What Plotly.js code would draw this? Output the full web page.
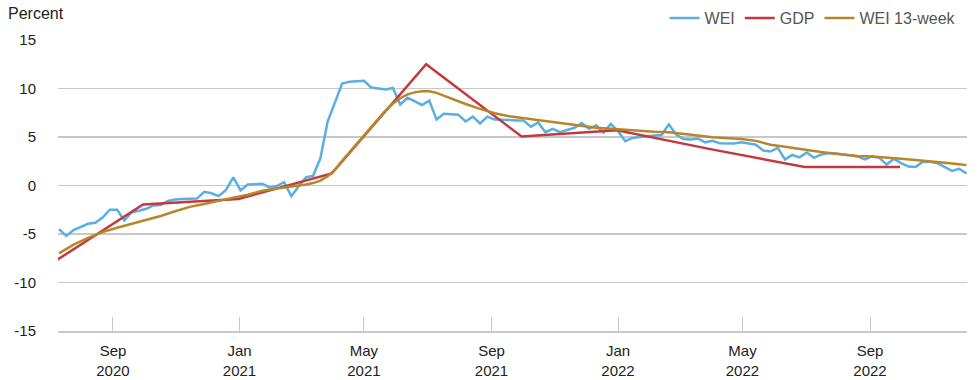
<!DOCTYPE html>
<html>
<head>
<meta charset="utf-8">
<script src="https://cdn.plot.ly/plotly-3.0.1.min.js"></script>
<style>
  html, body { margin: 0; padding: 0; background: #fff; }
  #chart { width: 980px; height: 380px; }
</style>
</head>
<body>
<div id="chart"></div>
<script>
// ---- Data ----
// WEI: weekly, first week ending 2020-07-11, 126 weeks
const weiStart = '2020-07-11';
const weiValues = [
  -4.5, -5.2, -4.6, -4.3, -3.95, -3.85, -3.3, -2.5, -2.5, -3.6,
  -2.75, -2.6, -2.4, -2.05, -2.0, -1.6, -1.45, -1.4, -1.4, -1.35,
  -0.65, -0.8, -1.1, -0.45, 0.85, -0.5, 0.1, 0.15, 0.17, -0.2,
  -0.05, 0.35, -1.1, -0.1, 0.85, 1.0, 2.8, 6.6, 8.6, 10.5,
  10.7, 10.75, 10.8, 10.1, 10.0, 9.9, 10.05, 8.35, 9.05, 8.7,
  8.3, 8.75, 6.8, 7.4, 7.35, 7.3, 6.6, 7.1, 6.4, 7.1,
  6.8, 6.8, 6.75, 6.7, 6.7, 6.05, 6.5, 5.5, 5.85, 5.5,
  5.7, 5.95, 6.45, 5.85, 6.2, 5.45, 6.35, 5.6, 4.57, 4.9,
  5.0, 5.1, 5.15, 5.2, 6.3, 5.26, 4.8, 4.75, 4.85, 4.45,
  4.6, 4.35, 4.33, 4.33, 4.45, 4.35, 4.2, 3.6, 3.5, 3.88,
  2.68, 3.15, 2.9, 3.4, 2.85, 3.2, 3.35, 3.3, 3.2, 3.1,
  3.0, 2.68, 3.0, 2.85, 2.16, 2.75, 2.3, 1.95, 1.92, 2.45,
  2.45, 2.3, 1.9, 1.5, 1.72, 1.24
];

// GDP: quarterly, year-over-year, plotted at quarter end
const gdpDates = ['2020-06-30', '2020-09-30', '2020-12-31', '2021-03-31', '2021-06-30',
                  '2021-09-30', '2021-12-31', '2022-03-31', '2022-06-30', '2022-09-30'];
const gdpValues = [-8.3, -1.95, -1.4, 1.25, 12.5, 5.05, 5.7, 3.75, 1.9, 1.92];

// WEI 13-week average, sampled at these week numbers (weeks after weiStart)
const avgWeeks = [0, 2, 4, 6, 8, 10, 12, 14, 16, 18, 20, 22, 24, 26, 28, 30, 32, 34, 35, 36,
                  37, 38, 39, 40, 41, 42, 43, 44, 45, 46, 47, 48, 49, 50, 51, 52, 53, 54, 56, 58,
                  60, 62, 64, 66, 68, 70, 72, 74, 76, 78, 80, 82, 84, 86, 88, 90, 92, 94, 96, 98,
                  100, 102, 104, 106, 108, 110, 112, 114, 116, 118, 120, 122, 124, 125];
const avgValues = [-7.0, -6.1, -5.4, -4.8, -4.35, -3.95, -3.6, -3.15, -2.65, -2.2, -1.9, -1.55, -1.25, -0.95, -0.55, -0.3, -0.12, 0.1, 0.25, 0.5,
                   0.95, 1.6, 2.55, 3.4, 4.3, 5.1, 6.0, 6.9, 7.75, 8.45, 9.0, 9.4, 9.6, 9.72, 9.72, 9.55, 9.25, 8.95, 8.4, 7.9,
                   7.45, 7.15, 6.95, 6.7, 6.5, 6.3, 6.1, 5.95, 5.85, 5.75, 5.6, 5.55, 5.5, 5.3, 5.15, 4.98, 4.88, 4.8, 4.6, 4.2,
                   4.0, 3.75, 3.55, 3.35, 3.2, 3.05, 3.0, 2.9, 2.75, 2.62, 2.45, 2.34, 2.2, 2.1];

// Axis ticks
const xTickVals = ['2020-09-01', '2021-01-01', '2021-05-01', '2021-09-01', '2022-01-01', '2022-05-01', '2022-09-01'];
const xTickText = ['Sep<br>2020', 'Jan<br>2021', 'May<br>2021', 'Sep<br>2021', 'Jan<br>2022', 'May<br>2022', 'Sep<br>2022'];
const yTickVals = [-15, -10, -5, 0, 5, 10, 15];
const yTickText = ['-15', '-10', '-5', '0', '5', '10', '15'];

// ---- Helpers ----
function weekDate(k) {
  const d = new Date(weiStart + 'T00:00:00Z');
  d.setUTCDate(d.getUTCDate() + 7 * k);
  return d.toISOString().slice(0, 10);
}
const weiDates = weiValues.map((_, k) => weekDate(k));
const avgDates = avgWeeks.map(k => weekDate(k));

const FONT = '"Liberation Sans", Arial, sans-serif';

const traces = [
  { x: weiDates, y: weiValues, name: 'WEI', type: 'scatter', mode: 'lines',
    line: { color: '#5aaee3', width: 2.5 } },
  { x: gdpDates, y: gdpValues, name: 'GDP', type: 'scatter', mode: 'lines',
    line: { color: '#c23a3d', width: 2.5 } },
  { x: avgDates, y: avgValues, name: 'WEI 13-week', type: 'scatter', mode: 'lines',
    line: { color: '#b8862a', width: 2.5 } }
];

const layout = {
  width: 980, height: 380,
  margin: { l: 58, r: 13, t: 40, b: 49, autoexpand: false },
  paper_bgcolor: '#fff', plot_bgcolor: '#fff',
  font: { family: FONT, size: 15, color: '#222' },
  showlegend: true,
  legend: {
    orientation: 'h', x: 0.994, xanchor: 'right', y: 1.075, yanchor: 'middle',
    font: { family: FONT, size: 16, color: '#555' },
    bgcolor: 'rgba(0,0,0,0)'
  },
  xaxis: {
    type: 'date',
    range: ['2020-07-10', '2022-12-03 12:00'],
    tickmode: 'array', tickvals: xTickVals, ticktext: xTickText,
    ticks: 'inside', ticklen: 14, tickcolor: '#c8c8c8', tickwidth: 1,
    showgrid: false, showline: true, linecolor: '#c8c8c8', linewidth: 2,
    zeroline: false,
    tickfont: { family: FONT, size: 15, color: '#222' },
    ticklabelstandoff: 5,
    automargin: false,
    fixedrange: true
  },
  yaxis: {
    range: [-15, 15],
    tickmode: 'array', tickvals: yTickVals, ticktext: yTickText,
    showgrid: true, gridcolor: '#c8c8c8', gridwidth: 1.5,
    zeroline: false, showline: false, ticks: '',
    tickfont: { family: FONT, size: 15, color: '#222' },
    ticklabelstandoff: 21,
    automargin: false,
    fixedrange: true
  },
  annotations: [
    { text: 'Percent', xref: 'paper', yref: 'paper', x: -0.057, y: 1.09,
      xanchor: 'left', yanchor: 'middle', showarrow: false,
      font: { family: FONT, size: 16, color: '#222' } }
  ]
};

Plotly.newPlot('chart', traces, layout, { displayModeBar: false, staticPlot: true });
</script>
</body>
</html>
